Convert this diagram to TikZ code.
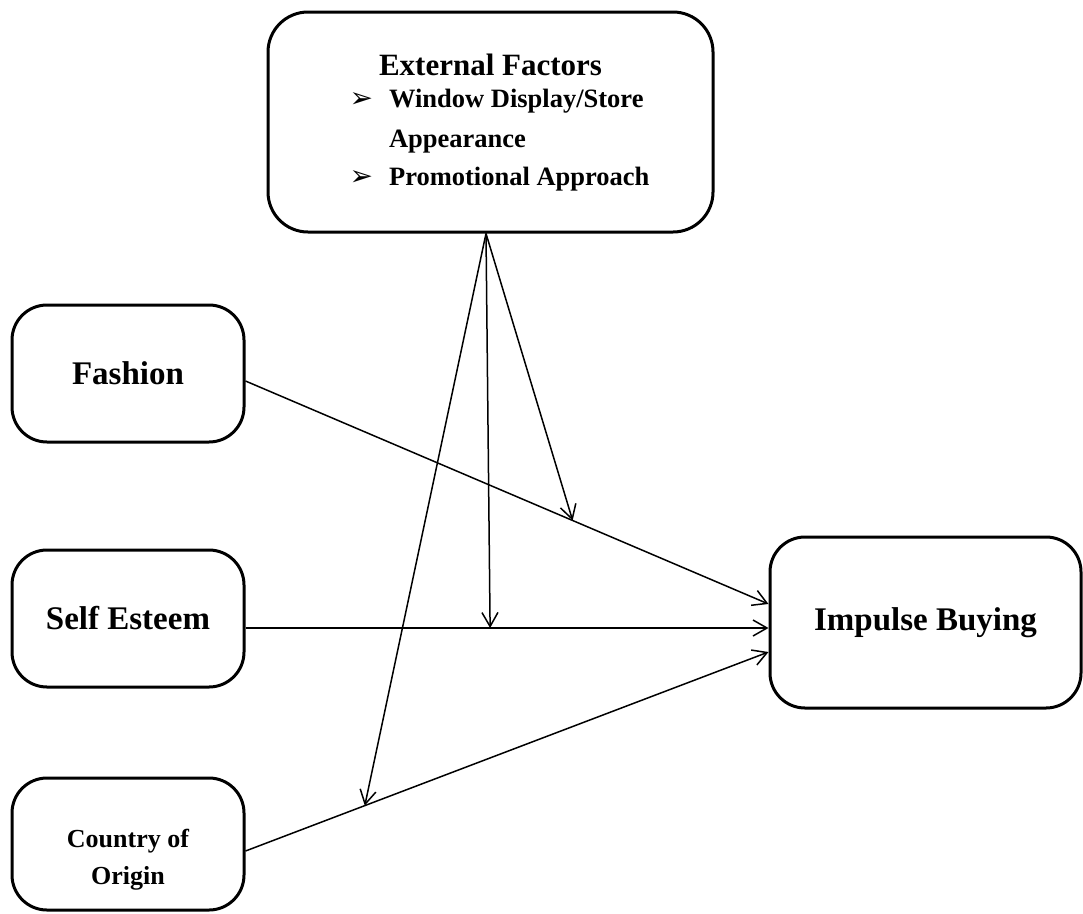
\documentclass[tikz,border=0pt]{standalone}
\usepackage{fontspec}
\setmainfont{Liberation Serif}
\newfontfamily\djv{DejaVu Sans}
\usetikzlibrary{arrows.meta,calc}
\newcommand{\bul}{{\djv\bfseries\fontsize{28}{36}\selectfont ➢}}
\newcommand{\itm}{\bfseries\fontsize{26.5}{36}\selectfont}
\begin{document}
\begin{tikzpicture}[x=1pt,y=-1pt,
  box/.style={draw, line width=3pt, rounded corners=35pt, align=center, inner sep=0pt,
    font=\bfseries\fontsize{33}{40}\selectfont},
  conn/.style={line width=1.5pt, -{Straight Barb[length=14pt,width=16pt]}}]
\useasboundingbox (0,0) rectangle (1083,913);
\node[box, minimum width=445pt, minimum height=220pt, rounded corners=40pt] (ext) at (490.5,122)
  {\hspace*{18pt}\raisebox{-3pt}{\begin{tabular}{@{}l@{\hspace{16pt}}l@{}}
   \multicolumn{2}{c}{\bfseries\fontsize{31}{37}\selectfont\hspace*{-18pt}External Factors}\\[-8pt]
   \bul & \itm Window Display/Store\\[0pt]
   & \itm Appearance\\[-2pt]
   \bul & \itm Promotional Approach
  \end{tabular}}};
\node[box, minimum width=232pt, minimum height=137pt] (fash) at (128,373.5) {Fashion};
\node[box, minimum width=232pt, minimum height=137pt] (self) at (128,618.5) {Self Esteem};
\node[box, minimum width=232pt, minimum height=132pt, font=\bfseries\fontsize{26}{37}\selectfont] (coo) at (128,844) {\rule{0pt}{50pt}Country of\\Origin};
\node[box, minimum width=311pt, minimum height=171pt] (imp) at (925.5,622.5) {Impulse Buying};
\coordinate (src) at ([xshift=-4.5pt]ext.south);
\coordinate (fs) at ([yshift=-7.5pt]fash.east);
\coordinate (fe) at ([yshift=18.5pt]imp.west);
\coordinate (ss) at ([yshift=-9.5pt]self.east);
\coordinate (se) at ([yshift=-5.5pt]imp.west);
\coordinate (cs) at ([yshift=-7pt]coo.east);
\coordinate (ce) at ([yshift=-29.5pt]imp.west);
\coordinate (mf) at ($(fs)!0.6255!(fe)$);
\coordinate (ms) at ($(ss)!0.4677!(se)$);
\coordinate (mc) at ($(cs)!0.2281!(ce)$);
\draw[conn] (fs) -- (fe);
\draw[conn] (ss) -- (se);
\draw[conn] (cs) -- (ce);
\draw[conn] (src) -- (ms);
\draw[conn] (src) -- (mf);
\draw[conn] (src) -- (mc);
\end{tikzpicture}
\end{document}
